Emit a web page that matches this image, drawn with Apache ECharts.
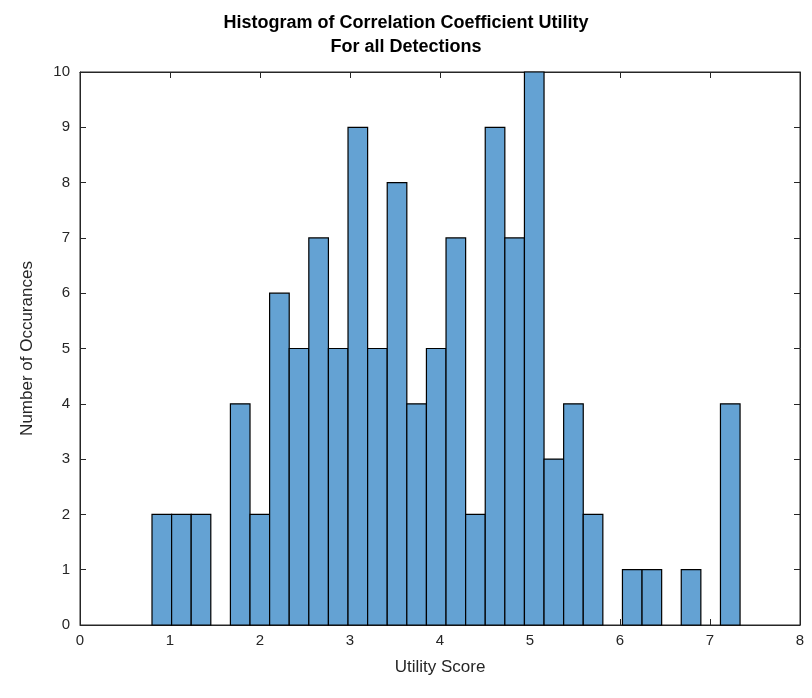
<!DOCTYPE html>
<html><head><meta charset="utf-8">
<script src="https://cdn.jsdelivr.net/npm/echarts@6/dist/echarts.min.js"></script>
<style>html,body{margin:0;padding:0;background:#fff}#c{width:812px;height:698px}</style>
</head><body><div id="c"></div>
<script>
const binStart = 0.8;
const binWidth = 0.2178;
const counts = [2,2,2,0,4,2,6,5,7,5,9,5,8,4,5,7,2,9,7,10,3,4,2,0,1,1,0,1,0,4];
const xTicks = [0,1,2,3,4,5,6,7,8];
const yTicks = [0,1,2,3,4,5,6,7,8,9,10];
const data = counts.map((c,i)=>[binStart+i*binWidth, binStart+(i+1)*binWidth, c]).filter(d=>d[2]>0);
const chart = echarts.init(document.getElementById('c'));
const font = 'Liberation Sans, Arial, sans-serif';
const axBase = {axisLine:{show:true,onZero:false,lineStyle:{color:'#262626'}},splitLine:{show:false},
  axisTick:{inside:true,length:6,lineStyle:{color:'#262626'}}};
chart.setOption({
  animation:false,
  title:{text:'Histogram of Correlation Coefficient Utility\nFor all Detections',left:'center',top:6,
    textStyle:{fontFamily:font,fontSize:18,fontWeight:'bold',color:'#000',lineHeight:24}},
  grid:{left:80,right:12,top:72,bottom:73,show:true,borderColor:'#262626',borderWidth:1,backgroundColor:'transparent'},
  xAxis:[
    Object.assign({type:'value',min:0,max:8,interval:1,name:'Utility Score',nameLocation:'middle',nameGap:34,
      nameTextStyle:{fontFamily:font,fontSize:17,color:'#262626'},
      axisLabel:{fontFamily:font,fontSize:15,color:'#262626',margin:8}},axBase),
    Object.assign({type:'value',min:0,max:8,interval:1,position:'top',axisLabel:{show:false}},axBase)
  ],
  yAxis:[
    Object.assign({type:'value',min:0,max:10,interval:1,name:'Number of Occurances',nameLocation:'middle',nameGap:44,
      nameTextStyle:{fontFamily:font,fontSize:17,color:'#262626'},
      axisLabel:{fontFamily:font,fontSize:15,color:'#262626',margin:10}},axBase),
    Object.assign({type:'value',min:0,max:10,interval:1,position:'right',axisLabel:{show:false}},axBase)
  ],
  series:[{type:'custom',data:data,encode:{x:[0,1],y:2},
    renderItem:function(params,api){
      const p0=api.coord([api.value(0),api.value(2)]);
      const p1=api.coord([api.value(1),0]);
      return {type:'rect',shape:{x:p0[0],y:p0[1],width:p1[0]-p0[0],height:p1[1]-p0[1]},
        style:{fill:'#64a2d3',stroke:'#000',lineWidth:1.2}};
    }},
    {type:'line',xAxisIndex:1,yAxisIndex:1,data:[],silent:true}]
});
</script></body></html>
